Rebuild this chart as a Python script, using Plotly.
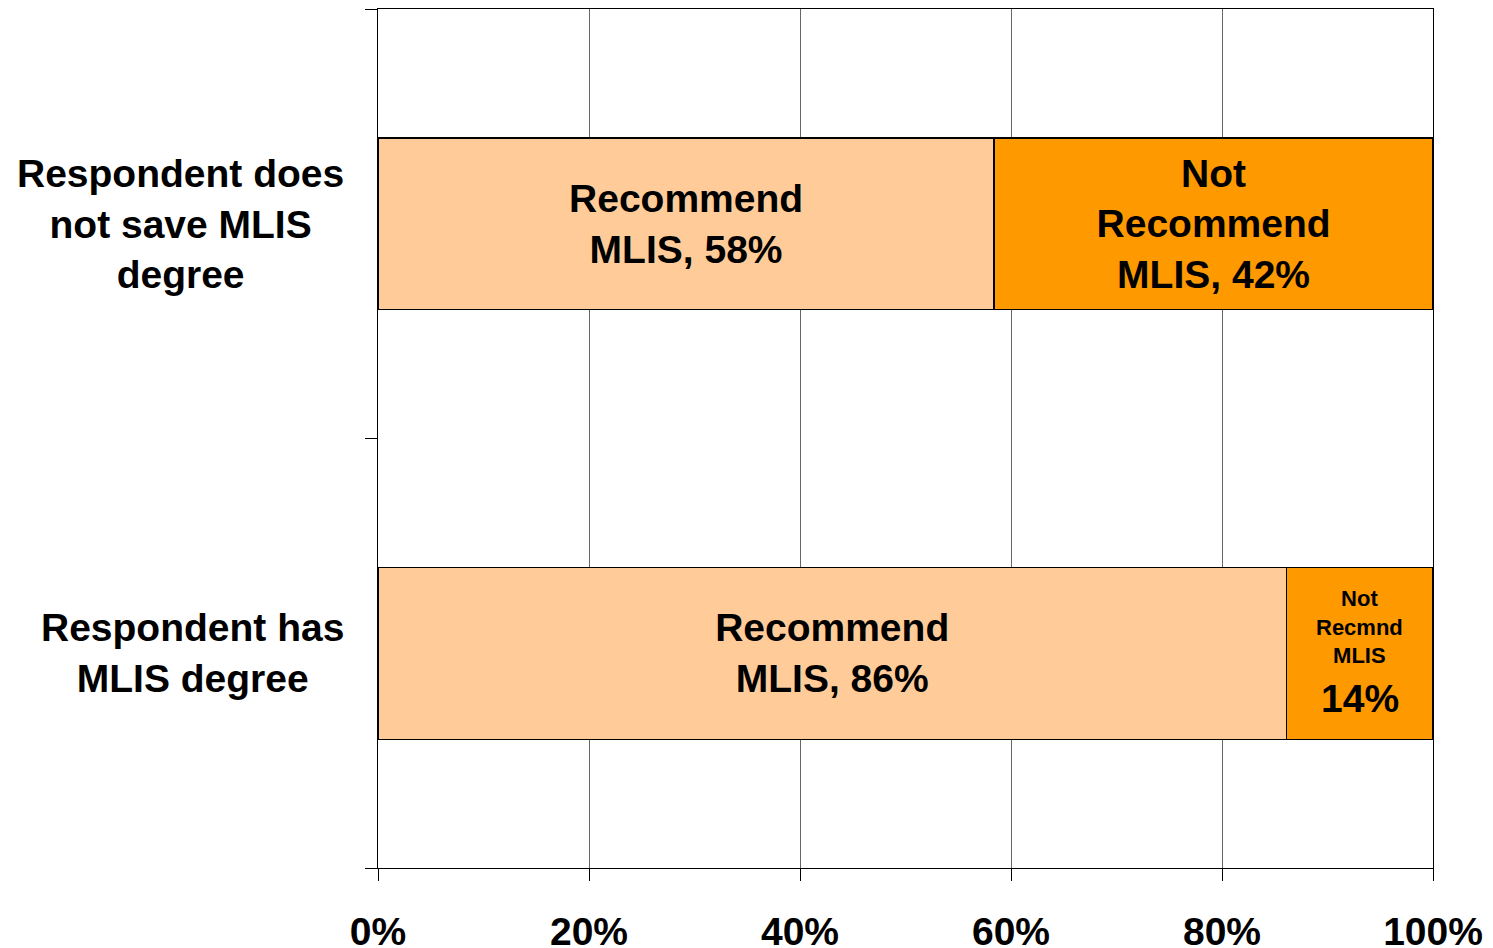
import plotly.graph_objects as go

categories = ["Respondent has MLIS degree", "Respondent does not save MLIS degree"]
category_labels = ["Respondent has<br>MLIS degree", "Respondent does<br>not save MLIS<br>degree"]
recommend = [86.1, 58.4]
not_recommend = [13.9, 41.6]
recommend_text = ["Recommend<br>MLIS, 86%", "Recommend<br>MLIS, 58%"]
not_recommend_text = ["", "Not<br>Recommend<br>MLIS, 42%"]
small_label_name = "Not<br>Recmnd<br>MLIS"
small_label_value = "14%"
x_ticks = [0, 20, 40, 60, 80, 100]

FONT = "Liberation Sans, Arial, sans-serif"
BOLD = dict(family=FONT, size=39, color="#000000", weight="bold")

fig = go.Figure()
fig.add_trace(go.Bar(
    y=categories, x=recommend, orientation="h", name="Recommend",
    marker=dict(color="#FFCC99", line=dict(color="#000000", width=1.3)),
    text=recommend_text, textposition="inside", insidetextanchor="middle",
    constraintext="none", textfont=BOLD,
    width=0.4, hoverinfo="skip",
))
fig.add_trace(go.Bar(
    y=categories, x=not_recommend, orientation="h", name="Not Recommend",
    marker=dict(color="#FF9900", line=dict(color="#000000", width=1.3)),
    text=not_recommend_text, textposition="inside", insidetextanchor="middle",
    constraintext="none", textfont=BOLD,
    width=0.4, hoverinfo="skip",
))

# small segment label (bottom bar, Not Recommend)
seg_center = recommend[0] + not_recommend[0] / 2
fig.add_annotation(
    x=seg_center, xref="x", y=categories[0], yref="y", yshift=26,
    text=small_label_name, showarrow=False, align="center",
    font=dict(family=FONT, size=22, color="#000000", weight="bold"),
)
fig.add_annotation(
    x=seg_center, xref="x", y=categories[0], yref="y", yshift=-45,
    text=small_label_value, showarrow=False, align="center",
    font=BOLD,
)

for cat, lab in zip(categories, category_labels):
    fig.add_annotation(
        x=0, xref="paper", y=cat, yref="y", xanchor="right", xshift=-32,
        text=lab, showarrow=False, align="center", font=BOLD,
    )

fig.update_layout(
    barmode="stack",
    width=1485, height=940,
    margin=dict(l=370, r=60, t=1, b=80),
    paper_bgcolor="white", plot_bgcolor="white",
    showlegend=False,
    font=dict(family=FONT, color="#000000"),
    xaxis=dict(
        range=[0, 100], tickvals=x_ticks, ticktext=[f"{v}%" for v in x_ticks],
        showgrid=True, gridcolor="#666666", gridwidth=1,
        showline=True, linecolor="#000000", linewidth=1.2, mirror=True,
        ticks="outside", ticklen=12, tickcolor="#000000", tickwidth=1,
        ticklabelstandoff=17, automargin=False,
        tickfont=BOLD,
        zeroline=False, fixedrange=True,
    ),
    yaxis=dict(
        type="category", categoryorder="array", categoryarray=categories,
        range=[-0.5, 1.5], showticklabels=False, automargin=False,
        showline=True, linecolor="#000000", linewidth=1.2, mirror=True,
        ticks="outside", ticklen=12, tickcolor="#000000", tickwidth=1,
        tickson="boundaries", showgrid=False, fixedrange=True,
    ),
)

fig.write_html("out.html")
